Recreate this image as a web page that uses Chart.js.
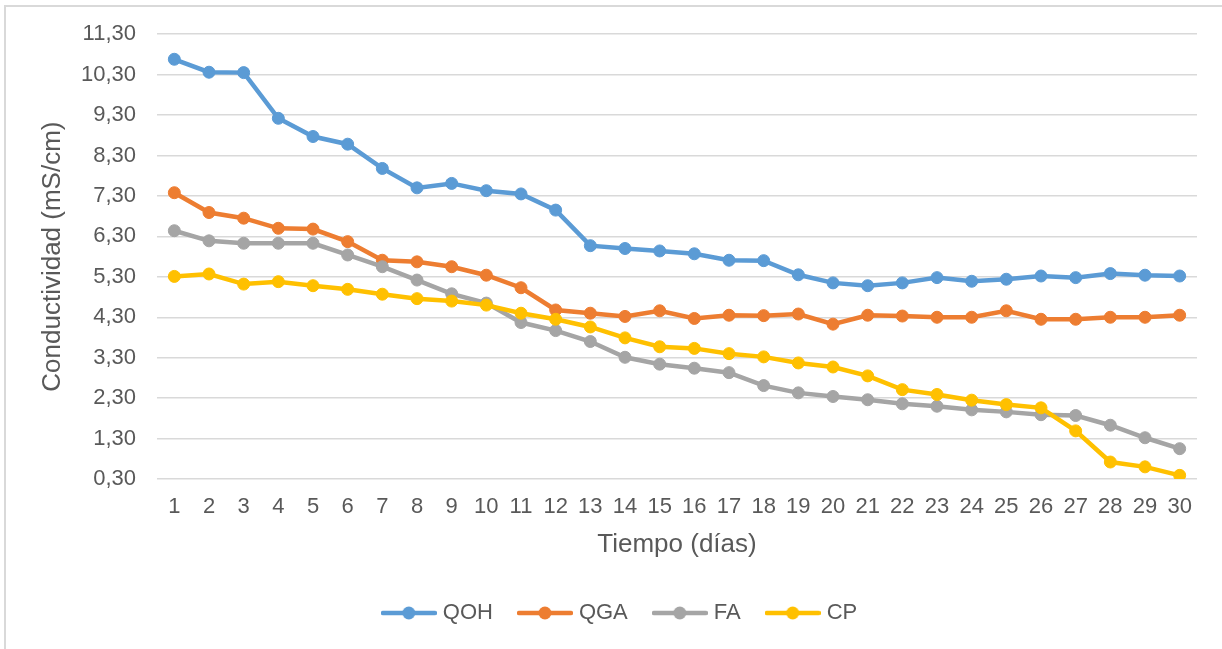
<!DOCTYPE html>
<html>
<head>
<meta charset="utf-8">
<script src="https://cdn.jsdelivr.net/npm/chart.js@4.4.1/dist/chart.umd.min.js"></script>
<style>
  html, body { margin: 0; padding: 0; background: #ffffff; }
  #wrap { position: relative; width: 1222px; height: 649px; overflow: hidden; }
  #frame { position: absolute; left: 4px; top: 5px; width: 1240px; height: 660px;
           border-top: 2px solid #d9d9d9; border-left: 2px solid #d9d9d9; }
  canvas { position: absolute; left: 0; top: 0; }
</style>
</head>
<body>
<div id="wrap">
  <div id="frame"></div>
  <canvas id="chart" width="1222" height="649"></canvas>
</div>
<script>
// Days of measurement
const dias = ['1','2','3','4','5','6','7','8','9','10','11','12','13','14','15',
              '16','17','18','19','20','21','22','23','24','25','26','27','28','29','30'];

// Conductivity (mS/cm) per treatment
const qoh = [10.68, 10.36, 10.35, 9.22, 8.77, 8.58, 7.98, 7.50, 7.61, 7.43, 7.35, 6.95, 6.07, 6.00, 5.94,
             5.87, 5.71, 5.70, 5.35, 5.15, 5.08, 5.15, 5.28, 5.19, 5.24, 5.32, 5.28, 5.38, 5.34, 5.32];
const qga = [7.38, 6.89, 6.75, 6.50, 6.48, 6.17, 5.71, 5.67, 5.55, 5.34, 5.03, 4.48, 4.40, 4.32, 4.46,
             4.27, 4.35, 4.34, 4.38, 4.13, 4.35, 4.33, 4.30, 4.30, 4.46, 4.25, 4.25, 4.30, 4.30, 4.35];
const fa  = [6.44, 6.19, 6.13, 6.13, 6.13, 5.84, 5.55, 5.22, 4.88, 4.65, 4.17, 3.97, 3.70, 3.31, 3.14,
             3.04, 2.93, 2.61, 2.43, 2.34, 2.26, 2.16, 2.10, 2.01, 1.96, 1.89, 1.87, 1.63, 1.32, 1.05];
const cp  = [5.31, 5.37, 5.12, 5.18, 5.08, 4.99, 4.87, 4.76, 4.70, 4.60, 4.40, 4.25, 4.06, 3.79, 3.57,
             3.53, 3.40, 3.32, 3.17, 3.07, 2.85, 2.51, 2.39, 2.25, 2.14, 2.06, 1.49, 0.72, 0.60, 0.39];

// Y axis tick values
const yTicks = [0.3, 1.3, 2.3, 3.3, 4.3, 5.3, 6.3, 7.3, 8.3, 9.3, 10.3, 11.3];

const seriesNames = ['QOH', 'QGA', 'FA', 'CP'];
const seriesColors = ['#5B9BD5', '#ED7D31', '#A5A5A5', '#FFC000'];
const seriesData = [qoh, qga, fa, cp];

const FONT = "'Liberation Sans', Arial, sans-serif";
const TEXT = '#595959';

// Legend marker: short line with a dot in the middle
function legendIcon(color) {
  const c = document.createElement('canvas');
  c.width = 56; c.height = 16;
  const g = c.getContext('2d');
  g.strokeStyle = color;
  g.lineWidth = 4.5;
  g.lineCap = 'round';
  g.beginPath(); g.moveTo(2, 8); g.lineTo(54, 8); g.stroke();
  g.fillStyle = color;
  g.beginPath(); g.arc(28, 8, 6.5, 0, Math.PI * 2); g.fill();
  return c;
}
const icons = seriesColors.map(legendIcon);

// Nudge the legend row so it sits centred under the plot
const legendNudge = {
  id: 'legendNudge',
  afterLayout(chart) {
    const lg = chart.legend;
    if (!lg) return;
    lg.left += 8; lg.right += 8;
    lg.top += 2; lg.bottom += 2;
  }
};

const datasets = seriesNames.map((name, i) => ({
  label: name,
  data: seriesData[i],
  borderColor: seriesColors[i],
  backgroundColor: seriesColors[i],
  pointBackgroundColor: seriesColors[i],
  pointBorderColor: seriesColors[i],
  borderWidth: 4.5,
  pointRadius: 6,
  pointBorderWidth: 1,
  pointHoverRadius: 6,
  tension: 0,
  fill: false,
  order: seriesNames.length - i
}));

new Chart(document.getElementById('chart'), {
  type: 'line',
  data: { labels: dias, datasets },
  plugins: [legendNudge],
  options: {
    responsive: false,
    animation: false,
    devicePixelRatio: 1,
    layout: { padding: { left: 30, right: 25, top: 34, bottom: 17 } },
    plugins: {
      tooltip: { enabled: false },
      legend: {
        position: 'bottom',
        labels: {
          usePointStyle: true,
          pointStyleWidth: 46,
          padding: 29,
          color: TEXT,
          font: { family: FONT, size: 22 },
          sort: (a, b) => a.datasetIndex - b.datasetIndex,
          generateLabels(chart) {
            const items = Chart.defaults.plugins.legend.labels.generateLabels(chart);
            items.forEach(it => { it.pointStyle = icons[it.datasetIndex]; });
            return items;
          }
        }
      }
    },
    scales: {
      x: {
        offset: true,
        grid: { display: false, drawTicks: false },
        border: { display: false },
        ticks: {
          color: TEXT,
          font: { family: FONT, size: 22 },
          padding: 15,
          maxRotation: 0,
          autoSkip: false
        },
        title: {
          display: true,
          text: 'Tiempo (días)',
          color: TEXT,
          font: { family: FONT, size: 26 },
          padding: { top: 9, bottom: 11 }
        },
        afterFit(scale) { scale.height = 92; }
      },
      y: {
        min: 0.3,
        max: 11.3,
        grid: { color: '#d9d9d9', lineWidth: 1.5, drawTicks: false },
        border: { display: false },
        afterBuildTicks(scale) { scale.ticks = yTicks.map(v => ({ value: v })); },
        ticks: {
          color: TEXT,
          font: { family: FONT, size: 22 },
          padding: 21,
          callback: v => Number(v).toFixed(2).replace('.', ',')
        },
        title: {
          display: true,
          text: 'Conductividad (mS/cm)',
          color: TEXT,
          font: { family: FONT, size: 26 },
          padding: { top: 7, bottom: 0 }
        },
        afterFit(scale) { scale.width = 127; }
      }
    }
  }
});
</script>
</body>
</html>
